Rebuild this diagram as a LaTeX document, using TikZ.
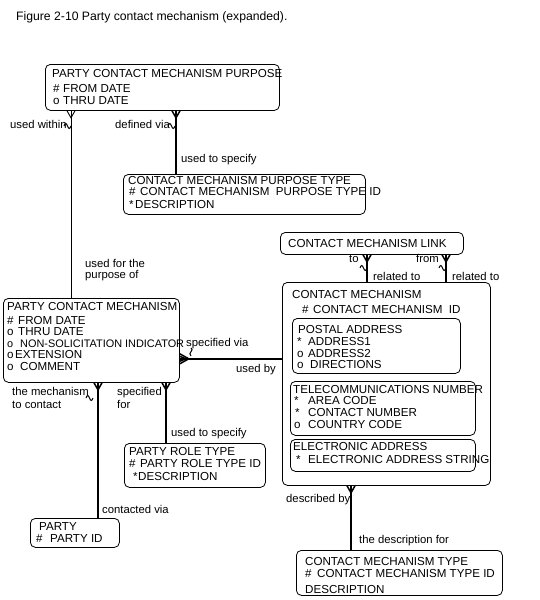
\documentclass[tikz,border=0pt]{standalone}
\usepackage{fontspec}
\setmainfont{Liberation Sans}
\newcommand\symcol[2]{\makebox[#1pt][l]{#2}}
\begin{document}
\begin{tikzpicture}[x=1pt,y=-1pt,
  box/.style={draw, rounded corners=5pt, line width=0.8pt, inner sep=0pt, anchor=north west},
  txt/.style={anchor=base west, inner sep=0pt, font=\fontsize{11.6}{13}\selectfont},
  lbl/.style={anchor=base west, inner sep=0pt, font=\fontsize{11.3}{13}\selectfont},
  rel/.style={line width=2.4pt},
  relthin/.style={line width=0.9pt},
  foot/.style={line width=1.5pt},
  footthin/.style={line width=0.9pt},
  squig/.style={line width=1pt}]
\useasboundingbox (0,0) rectangle (539,600);

% title
\node[txt, font=\fontsize{12.2}{14}\selectfont] (title) at (16,20) {Figure 2-10 Party contact mechanism (expanded).};

% boxes
\node[box, minimum width=234pt, minimum height=46pt] (pcmp) at (45,64) {};
\node[box, minimum width=242pt, minimum height=40pt] (cmpt) at (123,174) {};
\node[box, minimum width=183pt, minimum height=22pt] (cml) at (280,232) {};
\node[box, minimum width=208pt, minimum height=203pt] (cm) at (282,282) {};
\node[box, minimum width=168pt, minimum height=55pt] (postal) at (292,318) {};
\node[box, minimum width=185pt, minimum height=54pt] (telecom) at (290,381) {};
\node[box, minimum width=185pt, minimum height=32pt] (elec) at (290,439) {};
\node[box, minimum width=176pt, minimum height=84pt] (pcm) at (3,298) {};
\node[box, minimum width=141pt, minimum height=44pt] (prt) at (124,443) {};
\node[box, minimum width=89pt, minimum height=29pt] (party) at (30,518) {};
\node[box, minimum width=206pt, minimum height=45pt] (cmt) at (296,550) {};

% entity texts
\node[txt] (pcmp1) at (52,77) {PARTY CONTACT MECHANISM PURPOSE};
\node[txt] (pcmp2) at (53,92) {\symcol{10}{\#}FROM DATE};
\node[txt] (pcmp3) at (53,104) {\symcol{10}{o}THRU DATE};

\node[txt] (cmpt1) at (128,184) {CONTACT MECHANISM PURPOSE TYPE};
\node[txt] (cmpt2) at (129,195) {\symcol{11}{\#}CONTACT MECHANISM\ \ PURPOSE TYPE ID};
\node[txt] (cmpt3) at (129,208) {\symcol{6}{*}DESCRIPTION};

\node[txt] (cml1) at (288,247) {CONTACT MECHANISM LINK};

\node[txt] (cm1) at (292,298) {CONTACT MECHANISM};
\node[txt] (cm2) at (302,313) {\symcol{11}{\#}CONTACT MECHANISM\ \ ID};

\node[txt] (pa1) at (298,333) {POSTAL ADDRESS};
\node[txt] (pa2) at (297,345) {\symcol{11}{*}ADDRESS1};
\node[txt] (pa3) at (297,357) {\symcol{11}{o}ADDRESS2};
\node[txt] (pa4) at (297,368) {\symcol{13}{o}DIRECTIONS};

\node[txt] (tn1) at (293,393) {TELECOMMUNICATIONS NUMBER};
\node[txt] (tn2) at (294,404) {\symcol{14}{*}AREA CODE};
\node[txt] (tn3) at (295,416) {\symcol{13}{*}CONTACT NUMBER};
\node[txt] (tn4) at (294,428) {\symcol{14}{o}COUNTRY CODE};

\node[txt] (ea1) at (293,450) {ELECTRONIC ADDRESS};
\node[txt] (ea2) at (296,463) {\symcol{12}{*}ELECTRONIC ADDRESS STRING};

\node[txt] (pcm1) at (7,310) {PARTY CONTACT MECHANISM};
\node[txt] (pcm2) at (7,324) {\symcol{11}{\#}FROM DATE};
\node[txt] (pcm3) at (7,335) {\symcol{11}{o}THRU DATE};
\node[txt, font=\fontsize{10.9}{13}\selectfont] (pcm4) at (7,347) {\symcol{13}{o}NON-SOLICITATION INDICATOR};
\node[txt] (pcm5) at (7,358) {\symcol{8}{o}EXTENSION};
\node[txt] (pcm6) at (7,370) {\symcol{13}{o}COMMENT};

\node[txt] (prt1) at (129,455) {PARTY ROLE TYPE};
\node[txt] (prt2) at (129,467) {\symcol{11}{\#}PARTY ROLE TYPE ID};
\node[txt] (prt3) at (133,480) {\symcol{5}{*}DESCRIPTION};

\node[txt] (party1) at (39,530) {PARTY};
\node[txt] (party2) at (36,542) {\symcol{14}{\#}PARTY ID};

\node[txt] (cmt1) at (305,565) {CONTACT MECHANISM TYPE};
\node[txt] (cmt2) at (305,577) {\symcol{12}{\#}CONTACT MECHANISM TYPE ID};
\node[txt] (cmt3) at (305,593) {DESCRIPTION};

% ---- relationships ----
% PCMP -- PCM (used within / used for the purpose of)
\draw[relthin] (pcmp.south west) ++(26,0) coordinate (uw) -- (uw |- pcm.north);
\draw[footthin] (uw) ++(-4,0) -- ++(4,7) -- ++(4,-7);
\draw[squig] (64,126) sin ++(1.75,-2.5) cos ++(1.75,2.5) sin ++(1.75,2.5) cos ++(1.75,-2.5);
\node[lbl] (l1) at (10,128) {used within};
\node[lbl] (l2) at (85,267) {used for the};
\node[lbl] (l3) at (85,278) {purpose of};

% PCMP -- CMPT
\draw[rel] (pcmp.south west) ++(131,0) coordinate (dv) -- (dv |- cmpt.north);
\draw[foot] (dv) ++(-4,0) -- ++(4,7) -- ++(4,-7);
\draw[squig] (168,126) sin ++(1.75,-2.5) cos ++(1.75,2.5) sin ++(1.75,2.5) cos ++(1.75,-2.5);
\node[lbl] (l4) at (115,128) {defined via};
\node[lbl] (l5) at (181,162) {used to specify};

% PCM -- CM
\draw[rel] (pcm.south east) ++(0,-24) coordinate (sv) -- (sv -| cm.west);
\draw[foot] (sv) ++(0,-5) -- ++(9,5) -- ++(-9,5);
\draw[foot] (sv) ++(0,-2.5) -- ++(6,2.5) -- ++(-6,2.5);
\draw[squig] (191,348) .. controls (195,350) and (187,353) .. (191,356);
\node[lbl] (l6) at (186,346) {specified via};
\node[lbl] (l7) at (236,372) {used by};

% PCM -- PARTY
\draw[rel] (pcm.south west) ++(95,0) coordinate (tc) -- (tc |- party.north);
\draw[foot] (tc) ++(-4,0) -- ++(4,7) -- ++(4,-7);
\draw[squig] (86,398) sin ++(1.75,-2.5) cos ++(1.75,2.5) sin ++(1.75,2.5) cos ++(1.75,-2.5);
\node[lbl] (l8) at (12,395) {the mechanism};
\node[lbl] (l9) at (12,408) {to contact};
\node[lbl] (l10) at (102,513) {contacted via};

% PCM -- PRT
\draw[rel] (pcm.south west) ++(163,0) coordinate (sf) -- (sf |- prt.north);
\draw[foot] (sf) ++(-4,0) -- ++(4,7) -- ++(4,-7);
\node[lbl] (l11) at (117,395) {specified};
\node[lbl] (l12) at (117,408) {for};
\node[lbl] (l13) at (171,436) {used to specify};

% CML -- CM (to)
\draw[rel] (cml.south west) ++(87,0) coordinate (rt) -- (rt |- cm.north);
\draw[foot] (rt) ++(-4,0) -- ++(4,7) -- ++(4,-7);
\draw[squig] (360,268) sin ++(1.75,-2.5) cos ++(1.75,2.5) sin ++(1.75,2.5) cos ++(1.75,-2.5);
\node[lbl] (l14) at (349,262) {to};
\node[lbl] (l15) at (373,280) {related to};

% CML -- CM (from)
\draw[rel] (cml.south west) ++(166,0) coordinate (rf) -- (rf |- cm.north);
\draw[foot] (rf) ++(-4,0) -- ++(4,7) -- ++(4,-7);
\draw[squig] (439,268) sin ++(1.75,-2.5) cos ++(1.75,2.5) sin ++(1.75,2.5) cos ++(1.75,-2.5);
\node[lbl] (l16) at (416,262) {from};
\node[lbl] (l17) at (452,280) {related to};

% CM -- CMT
\draw[rel] (cm.south west) ++(69,0) coordinate (db) -- (db |- cmt.north);
\draw[foot] (db) ++(-4,0) -- ++(4,7) -- ++(4,-7);
\node[lbl] (l18) at (286,502) {described by};
\node[lbl] (l19) at (359,543) {the description for};
\end{tikzpicture}
\end{document}
